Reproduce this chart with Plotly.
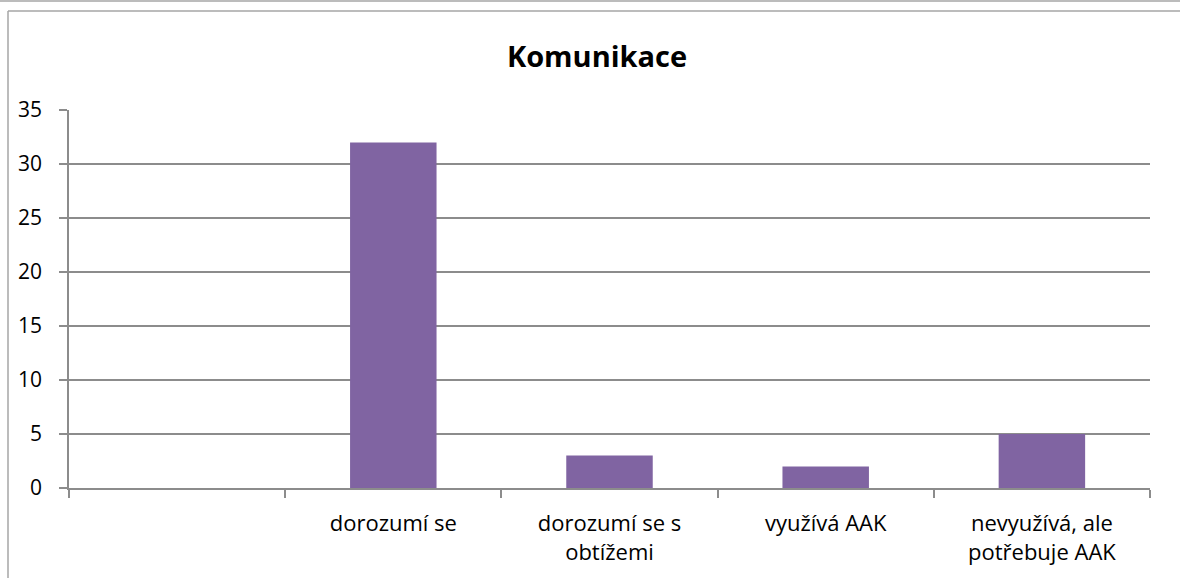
import plotly.graph_objects as go

categories = ["", "dorozumí se", "dorozumí se s<br>obtížemi", "využívá AAK", "nevyužívá, ale<br>potřebuje AAK"]
values = [None, 32, 3, 2, 5]
y_ticks = [0, 5, 10, 15, 20, 25, 30, 35]

W, H = 1180, 578
L, R, T, B = 69, 1150, 110, 488

fig = go.Figure(go.Bar(
    x=list(range(len(categories))), y=values,
    marker=dict(color="#8064A2", line=dict(width=0)),
    width=0.4,
))

FONT = "Open Sans"
GRID = "#8c8c8c"
fig.update_layout(
    width=W, height=H,
    margin=dict(l=L, r=W - R, t=T, b=H - B, autoexpand=False),
    paper_bgcolor="white", plot_bgcolor="white",
    showlegend=False,
    font=dict(family=FONT, size=21, color="black"),
    title=dict(text="<b>Komunikace</b>", x=(597 - L) / (R - L), xanchor="center", y=1 - 57 / H, yanchor="middle",
               xref="paper", font=dict(family=FONT, size=29, color="black")),
)
fig.update_xaxes(
    range=[-0.5, len(categories) - 0.5],
    tickmode="array", tickvals=list(range(len(categories))), ticktext=categories,
    showgrid=False, showline=True, linecolor=GRID, linewidth=1.5,
    ticks="", ticklabelstandoff=15, tickfont=dict(size=22),
    zeroline=False, fixedrange=True,
)
fig.update_xaxes(minor=dict(tickmode="array", tickvals=[i + 0.5 for i in range(-1, len(categories))],
                            ticks="outside", ticklen=8, tickcolor=GRID, tickwidth=1.5))
fig.update_yaxes(
    range=[0, 35], tickvals=y_ticks, ticks="outside", ticklen=8, tickcolor=GRID, tickwidth=1.5,
    showgrid=True, gridcolor=GRID, gridwidth=1.5,
    showline=True, linecolor=GRID, linewidth=1.5,
    zeroline=False, ticklabelstandoff=13, tickfont=dict(size=21), fixedrange=True,
)

# outer chart frame
def px_x(v):
    return (v - L) / (R - L)

def px_y(v):
    return (B - v) / (B - T)

FRAME = "#a6a6a6"
fig.add_shape(type="line", xref="paper", yref="paper", x0=px_x(0), x1=px_x(W), y0=px_y(1), y1=px_y(1),
              line=dict(color=FRAME, width=1.5))
fig.add_shape(type="line", xref="paper", yref="paper", x0=px_x(8), x1=px_x(W), y0=px_y(11), y1=px_y(11),
              line=dict(color=FRAME, width=1.5))
fig.add_shape(type="line", xref="paper", yref="paper", x0=px_x(8), x1=px_x(8), y0=px_y(11), y1=px_y(H + 5),
              line=dict(color=FRAME, width=1.5))

fig.write_html("out.html", config={"displayModeBar": False},
               post_script="document.body.style.margin='0';document.body.style.overflow='hidden';")
